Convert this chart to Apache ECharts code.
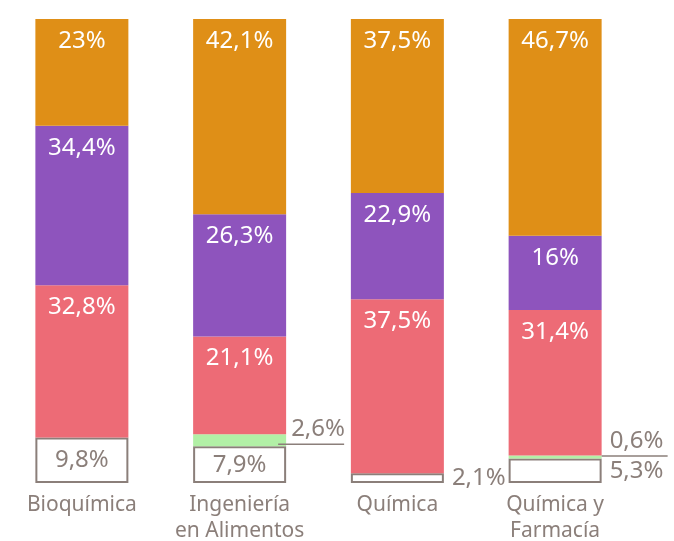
<!DOCTYPE html>
<html>
<head>
<meta charset="utf-8">
<script src="https://cdn.jsdelivr.net/npm/echarts@6/dist/echarts.min.js"></script>
<style>
  html, body { margin: 0; padding: 0; background: #fff; }
  #chart { width: 674px; height: 541px; }
</style>
</head>
<body>
<div id="chart"></div>
<script>
const carreras = ['Bioquímica', 'Ingeniería\nen Alimentos', 'Química', 'Química y\nFarmacía']
// de abajo hacia arriba
const blanco = [9.8, 7.9, 2.1, 5.3]
const verde = [0, 2.6, 0, 0.6]
const rojo = [32.8, 21.1, 37.5, 31.4]
const morado = [34.4, 26.3, 22.9, 16]
const naranjo = [23, 42.1, 37.5, 46.7]

const gris = '#8b7f7a'
const fuente = 'Noto Sans'
const fmt = v => String(v).replace('.', ',') + '%'

const chart = echarts.init(document.getElementById('chart'))

const insideTop = {
  show: true,
  position: 'insideTop',
  distance: 10,
  color: '#fff',
  fontSize: 24,
  fontFamily: fuente,
  formatter: p => fmt(p.value)
}

const barra = (name, data, color, label) => ({
  name,
  type: 'bar',
  stack: 'total',
  barWidth: 93,
  itemStyle: { color },
  label,
  emphasis: { disabled: true },
  data
})

const blancoData = blanco.map((v, i) => {
  const afuera = v < 5 || i === 3
  return {
    value: v,
    label: afuera
      ? { position: 'right', distance: 8, color: gris }
      : { position: 'inside', color: gris }
  }
})

// etiquetas de verde con linea por debajo
const verdeData = verde.map((v, i) => {
  if (v === 0) return { value: v, label: { show: false } }
  const dx = i === 1 ? -8 : 0
  const dy = i === 1 ? -10 : -15
  const pad = i === 1 ? 13 : 8
  return {
    value: v,
    label: {
      show: true,
      position: 'right',
      distance: 0,
      offset: [dx, dy],
      formatter: '{t|' + fmt(v) + '}\n{l|}',
      rich: {
        t: { color: gris, fontSize: 24, fontFamily: fuente, padding: [0, 0, 0, pad], lineHeight: 28 },
        l: { width: 66, height: 1.5, backgroundColor: gris }
      }
    }
  }
})

const option = {
  animation: false,
  grid: { left: 3, right: 40, top: 19, bottom: 58, outerBoundsMode: 'none', containLabel: false },
  xAxis: {
    type: 'category',
    data: carreras,
    axisLine: { show: false },
    axisTick: { show: false },
    axisLabel: { interval: 0, color: gris, fontSize: 21, fontFamily: fuente, lineHeight: 26, margin: 9 }
  },
  yAxis: { type: 'value', min: 0, max: 100, show: false },
  series: [
    {
      name: 'blanco',
      type: 'bar',
      stack: 'total',
      barWidth: 93,
      itemStyle: { color: '#fff', borderColor: gris, borderWidth: 2 },
      label: { show: true, fontSize: 24, fontFamily: fuente, formatter: p => fmt(p.value) },
      emphasis: { disabled: true },
      data: blancoData
    },
    barra('verde', verdeData, '#b2f0a6', { show: false }),
    barra('rojo', rojo, '#ed6b76', insideTop),
    barra('morado', morado, '#8e54bd', insideTop),
    barra('naranjo', naranjo, '#df8f17', insideTop)
  ]
}

chart.setOption(option)
</script>
</body>
</html>
